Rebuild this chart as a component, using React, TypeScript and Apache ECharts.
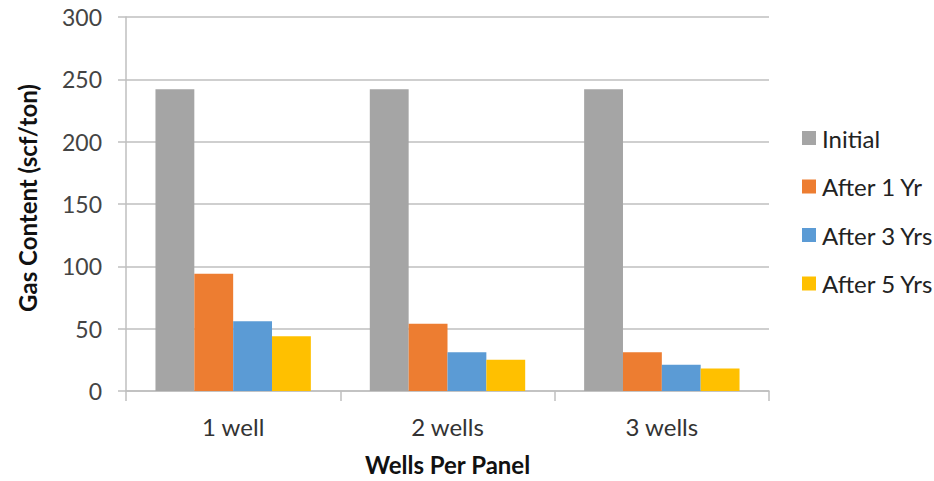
import React, { useEffect, useRef } from "react";
import * as echarts from "echarts";

// Wells per panel and gas content (scf/ton) over time
const categories = ["1 well", "2 wells", "3 wells"];
const seriesNames = ["Initial", "After 1 Yr", "After 3 Yrs", "After 5 Yrs"];
const initial = [242, 242, 242];
const after1Yr = [94, 54, 31];
const after3Yrs = [56, 31, 21];
const after5Yrs = [44, 25, 18];
const yTicks = { min: 0, max: 300, interval: 50 };

const colors = ["#A5A5A5", "#ED7D31", "#5B9BD5", "#FFC000"];
const FONT = "Lato, 'Open Sans', sans-serif";

export default function App() {
  const ref = useRef<HTMLDivElement>(null);

  useEffect(() => {
    if (!ref.current) return;
    const chart = echarts.init(ref.current, null, { renderer: "svg" });
    const values = [initial, after1Yr, after3Yrs, after5Yrs];
    chart.setOption({
      animation: false,
      backgroundColor: "#ffffff",
      color: colors,
      textStyle: { fontFamily: FONT },
      grid: { left: 126, top: 17, right: 165, bottom: 87, containLabel: false },
      legend: {
        orient: "vertical",
        left: 797,
        top: 121,
        itemWidth: 14,
        itemHeight: 14,
        itemGap: 24.5,
        icon: "rect",
        textStyle: { fontSize: 24, lineHeight: 24, color: "#222", fontFamily: FONT, padding: [0, 0, 0, 1] },
        data: seriesNames,
      },
      xAxis: {
        type: "category",
        data: categories,
        name: "Wells Per Panel",
        nameLocation: "middle",
        nameGap: 61,
        nameTextStyle: { fontSize: 24, fontWeight: "bold", color: "#111", fontFamily: FONT },
        axisLine: { lineStyle: { color: "#BFBFBF", width: 1.5 } },
        axisTick: { show: true, length: 10, alignWithLabel: false, lineStyle: { color: "#BFBFBF", width: 1.5 } },
        axisLabel: { fontSize: 24, color: "#333", margin: 23, fontFamily: FONT },
      },
      yAxis: {
        type: "value",
        min: yTicks.min,
        max: yTicks.max,
        interval: yTicks.interval,
        name: "Gas Content (scf/ton)",
        nameLocation: "middle",
        nameGap: 87,
        nameTextStyle: { fontSize: 24, fontWeight: "bold", color: "#111", fontFamily: FONT, padding: [0, 0, 0, 12] },
        axisLine: { show: true, lineStyle: { color: "#BFBFBF", width: 1.5 } },
        axisTick: { show: true, length: 8, lineStyle: { color: "#BFBFBF", width: 1.5 } },
        axisLabel: { fontSize: 23, color: "#444", margin: 24, fontFamily: FONT },
        splitLine: { lineStyle: { color: "#BFBFBF", width: 1.5 } },
      },
      series: seriesNames.map((name, i) => ({
        name,
        type: "bar",
        data: values[i],
        barGap: "0%",
        barCategoryGap: "27.5%",
        itemStyle: { color: colors[i] },
      })),
    });
    return () => chart.dispose();
  }, []);

  return (
    <div
      ref={ref}
      style={{ position: "fixed", left: 0, top: 0, width: 934, height: 481 }}
    />
  );
}
